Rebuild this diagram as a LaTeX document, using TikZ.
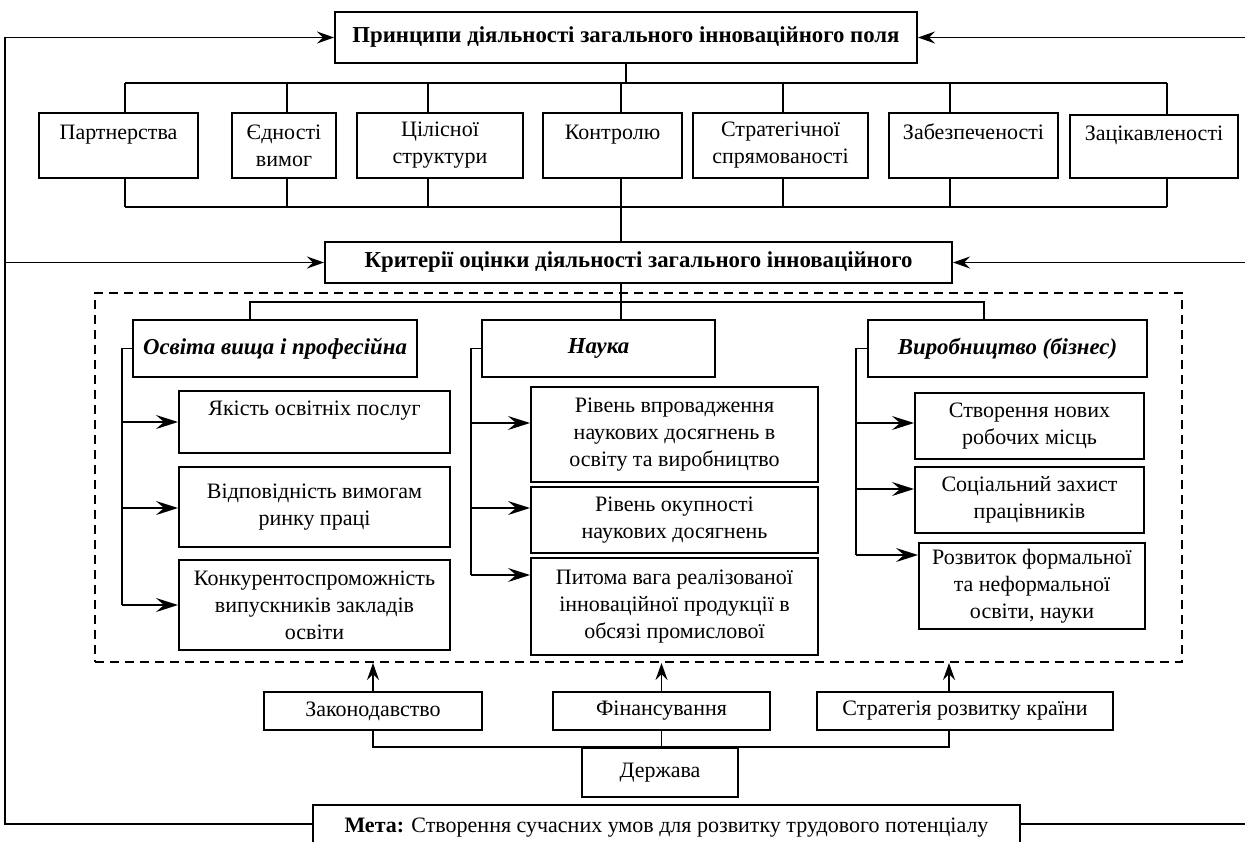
\documentclass[tikz,border=0pt]{standalone}
\usepackage{fontspec}
\setmainfont{Liberation Serif}
\usetikzlibrary{positioning,arrows.meta}

\begin{document}
\begin{tikzpicture}[x=0.5pt,y=-0.5pt,font=\fontsize{11}{13.5}\selectfont,
   box/.style={draw,line width=1pt,shape=rectangle,align=center,inner sep=2pt},
   head/.style={box,font=\fontsize{11.4}{13.5}\selectfont\bfseries},
   sect/.style={box,font=\fontsize{11.4}{13.5}\selectfont\bfseries\itshape,minimum height=28.5pt},
   conn/.style={line width=0.7pt},
   arr/.style={conn,-{Stealth[length=8.5pt,width=6pt,inset=3pt]}},
   bigarr/.style={conn,-{Stealth[length=11pt,width=7pt,inset=4pt]}},
   fieldbox/.style={draw,line width=1pt,dash pattern=on 4.5pt off 3pt}]
   \useasboundingbox (0,0) rectangle (1245,841);
   % principles
   \node[head,minimum width=291pt,  minimum height=25.5pt] (prin)   at (626,37.5)    {Принципи діяльності загального інноваційного поля};
   \node[box, minimum width=79.5pt, minimum height=32.5pt] (partn)  at (118.5,145.5) {Партнерства\\\mbox{}};
   \node[box, minimum width=52pt,   minimum height=32.5pt] (yedn)   at (284,145.5)   {Єдності\\вимог};
   \node[box, minimum width=83pt,   minimum height=32.5pt] (tsil)   at (440,145.5)   {Цілісної\\структури};
   \node[box, minimum width=69.5pt, minimum height=32.5pt] (kontr)  at (612.5,145.5) {Контролю\\\mbox{}};
   \node[box, minimum width=87.5pt, minimum height=32.5pt] (strat)  at (780.5,145.5) {Стратегічної\\спрямованості};
   \node[box, minimum width=84.5pt, minimum height=32.5pt] (zabez)  at (973.5,145.5) {Забезпеченості\\\mbox{}};
   \node[box, minimum width=84pt,   minimum height=31.5pt] (zatsik) at (1154,146.5)  {Зацікавленості\\\mbox{}};
   \node[head,minimum width=313.5pt,minimum height=20.5pt] (krit)   at (638.5,262.5) {Критерії оцінки діяльності загального інноваційного};
   % criteria field
   \node[fieldbox,minimum width=543.5pt,minimum height=184.5pt] (field) at (638.5,477.5) {};
   \node[sect,minimum width=142pt  ] (osv)   at (275,348.5)    {Освіта вища і професійна};
   \node[sect,minimum width=116.5pt] (nauka) at (598.5,348.5)  {Наука};
   \node[sect,minimum width=139.5pt] (vyrob) at (1007.5,348.5) {Виробництво (бізнес)};
   \node[box,minimum width=135.5pt,minimum height=31pt  ] (osv1) at (314.5,422)  {Якість освітніх послуг\\\mbox{}};
   \node[box,minimum width=135.5pt,minimum height=40pt  ] (osv2) at (314.5,507)  {Відповідність вимогам\\ринку праці};
   \node[box,minimum width=135.5pt,minimum height=45pt  ] (osv3) at (314.5,605)  {Конкурентоспроможність\\випускників закладів\\освіти};
   \node[box,minimum width=143.5pt,minimum height=47.5pt] (n1)   at (674.5,434.5){Рівень впровадження\\наукових досягнень в\\освіту та виробництво};
   \node[box,minimum width=143.5pt,minimum height=33pt  ] (n2)   at (674.5,520)  {Рівень окупності\\наукових досягнень};
   \node[box,minimum width=143.5pt,minimum height=48.5pt] (n3)   at (674.5,606.5){Питома вага реалізованої\\інноваційної продукції в\\обсязі промислової};
   \node[box,minimum width=114.5pt,minimum height=33pt  ] (v1)   at (1029.5,426) {Створення нових\\робочих місць};
   \node[box,minimum width=114.5pt,minimum height=33pt  ] (v2)   at (1029.5,500) {Соціальний захист\\працівників};
   \node[box,minimum width=113pt,  minimum height=43pt  ] (v3)   at (1032,586)   {Розвиток формальної\\та неформальної\\освіти, науки};
   % state
   \node[box,minimum width=109pt,  minimum height=19pt  ] (zakon)  at (373,711)    {Законодавство};
   \node[box,minimum width=108.5pt,minimum height=19pt  ] (fin)    at (661.5,711)  {Фінансування};
   \node[box,minimum width=148pt,  minimum height=19pt  ] (strat2) at (965,711)    {Стратегія розвитку країни};
   \node[box,minimum width=78pt,   minimum height=24.5pt] (derzh)  at (660,772.5)  {Держава};
   \node[box,minimum width=353.5pt,minimum height=23pt  ] (meta)   at (666.5,828)  {\textbf{Мета:} Створення сучасних умов для розвитку трудового потенціалу};
   % principles tree
   \coordinate (busT) at (0,83);
   \coordinate (busB) at (0,207);
   \coordinate (busC) at (0,302);
   \foreach \n/\x in {partn/125,yedn/287,tsil/428,kontr/621,strat/783,zabez/950,zatsik/1167}{
      \draw[conn] (\x,0 |- \n.north) -- (\x,0 |- busT);
      \draw[conn] (\x,0 |- \n.south) -- (\x,0 |- busB);
   }
   \draw[conn] (125,0 |- busT) -- (1167,0 |- busT);
   \draw[conn] (125,0 |- busB) -- (1167,0 |- busB);
   \draw[conn] (prin.south) -- (prin.south |- busT);
   \draw[conn] (621,0 |- busB) -- (621,0 |- krit.north);
   % criteria tree
   \draw[conn] (621,0 |- krit.south) -- (621,0 |- busC);
   \draw[conn] (250,0 |- osv.north) |- (984,0 |- busC) -- (984,0 |- vyrob.north);
   \draw[conn] (621,0 |- nauka.north) -- (621,0 |- busC);
   \draw[conn] (osv.west) -| (122,605);
   \foreach \n/\y in {osv1/422,osv2/508,osv3/605}
      \draw[bigarr] (122,\y) -- (\n.west |- 0,\y);
   \draw[conn] (nauka.west) -| (471,575);
   \foreach \n/\y in {n1/423,n2/508,n3/575}
      \draw[bigarr] (471,\y) -- (\n.west |- 0,\y);
   \draw[conn] (vyrob.west) -| (856,555);
   \foreach \n/\y in {v1/423,v2/489,v3/555}
      \draw[bigarr] (856,\y) -- (\n.west |- 0,\y);
   % state tree
   \draw[arr ] (zakon.north) -- (zakon.north |- field.south);
   \draw[arr ] (fin.north)   -- (fin.north |- field.south);
   \draw[arr ] (949,0 |- strat2.north) -- (949,0 |- field.south);
   \draw[conn] (zakon.south) |- (949,0 |- derzh.north) -- (949,0 |- strat2.south);
   \draw[conn] (fin.south) -- (fin.south |- derzh.north);
   % goal loop
   \coordinate (L) at (5,0);
   \coordinate (R) at (1250,0);
   \coordinate (goal) at (0,824);
   \draw[arr ] (meta.west |- goal) -| (L |- prin.west) -- (prin.west);
   \draw[arr ] (L |- krit.west) -- (krit.west);
   \draw[arr ] (R |- prin.east) -- (prin.east);
   \draw[arr ] (R |- krit.east) -- (krit.east);
   \draw[conn] (meta.east |- goal) -- (R |- goal);
\end{tikzpicture}
\end{document}
